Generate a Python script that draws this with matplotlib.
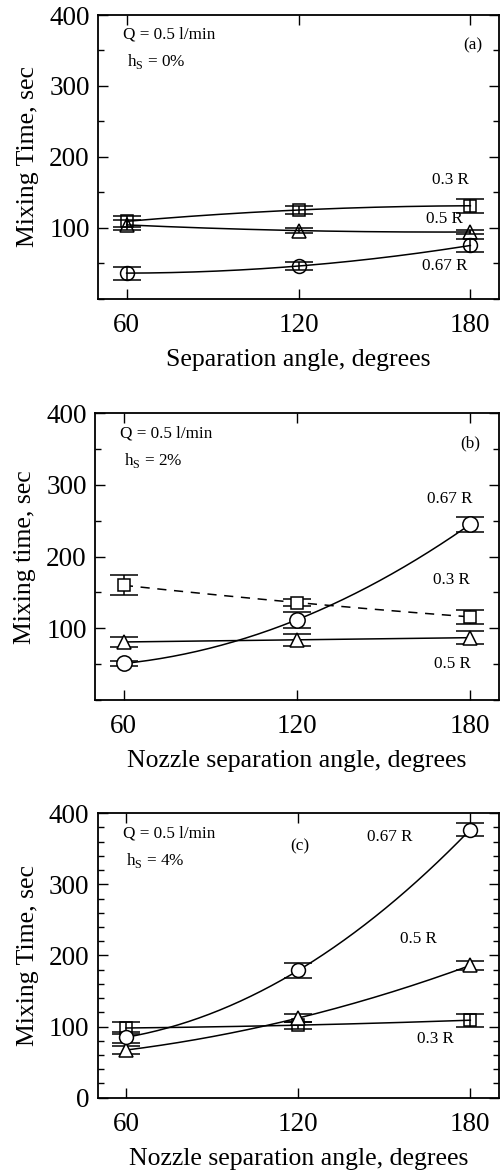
import numpy as np
import matplotlib
matplotlib.use("Agg")
import matplotlib.pyplot as plt
from matplotlib.ticker import MultipleLocator

plt.rcParams['font.family'] = ['Liberation Serif', 'DejaVu Serif']
plt.rcParams['mathtext.fontset'] = 'custom'
plt.rcParams['mathtext.rm'] = 'Liberation Serif'

angles = [60, 120, 180]

# panel (a), hs = 0%
a_sq = [109, 125, 131]
a_sq_err = [8, 5, 10]
a_tri = [104, 96, 94]
a_tri_err = [7, 3, 3]
a_circ = [36, 46, 75]
a_circ_err = [9, 6, 9]

# panel (b), hs = 2%
b_sq = [160, 136, 116]
b_sq_err = [14, 5, 10]
b_tri = [81, 84, 87]
b_tri_err = [7, 8, 9]
b_circ = [51, 112, 245]
b_circ_err = [3, 11, 10]

# panel (c), hs = 4%
c_sq = [98, 102, 109]
c_sq_err = [8, 5, 9]
c_tri = [67, 112, 186]
c_tri_err = [5, 5, 6]
c_circ = [85, 179, 377]
c_circ_err = [8, 10, 9]

ylabels = ["Mixing Time, sec", "Mixing time, sec", "Mixing Time, sec"]
xlabels = ["Separation angle, degrees", "Nozzle separation angle, degrees",
           "Nozzle separation angle, degrees"]
hs_text = ["0%", "2%", "4%"]
panel_tags = ["(a)", "(b)", "(c)"]

fig = plt.figure(figsize=(5.0, 11.73), dpi=100)
rects = [[0.196, 0.7454, 0.802, 0.2418],
         [0.190, 0.4032, 0.808, 0.2445],
         [0.195, 0.0642, 0.803, 0.2425]]


def draw_series(ax, y, err, marker, ms, face, ls='-'):
    xs = np.linspace(angles[0], angles[-1], 200)
    coef = np.polyfit(angles, y, 2)
    ax.plot(xs, np.polyval(coef, xs), color='black', lw=1.1, ls=ls,
            dashes=(6, 5) if ls == '--' else (None, None), zorder=2)
    ax.errorbar(angles, y, yerr=err, fmt='none', ecolor='black', elinewidth=1.1,
                capsize=10, capthick=1.1, zorder=3)
    ax.plot(angles, y, ls='none', marker=marker, ms=ms, mfc=face, mec='black',
            mew=1.1, zorder=4)


panels = [
    [(a_sq, a_sq_err, 's', 'none', '-'), (a_tri, a_tri_err, '^', 'none', '-'),
     (a_circ, a_circ_err, 'o', 'none', '-')],
    [(b_sq, b_sq_err, 's', 'white', '--'), (b_tri, b_tri_err, '^', 'white', '-'),
     (b_circ, b_circ_err, 'o', 'white', '-')],
    [(c_sq, c_sq_err, 's', 'none', '-'), (c_tri, c_tri_err, '^', 'white', '-'),
     (c_circ, c_circ_err, 'o', 'white', '-')],
]

# label positions in data coords: (x, y, text)
curve_labels = [
    [(173, 167, "0.3 R"), (171, 113, "0.5 R"), (171, 46, "0.67 R")],
    [(173, 281, "0.67 R"), (173.5, 167, "0.3 R"), (174, 50, "0.5 R")],
    [(152, 367, "0.67 R"), (162, 223, "0.5 R"), (168, 82, "0.3 R")],
]
tag_pos = [(181, 357), (180, 358), (120.5, 353)]

for i in range(3):
    ax = fig.add_axes(rects[i])
    for y, err, mk, face, ls in panels[i]:
        ms = 8 if mk == 's' else 10
        if i == 1 and mk == 'o':
            ms = 11
        draw_series(ax, y, err, mk, ms, face, ls)

    ax.set_xlim(50, 190)
    ax.set_ylim(0, 400)
    ax.set_xticks(angles)
    if i == 2:
        ax.set_yticks([0, 100, 200, 300, 400])
        ax.yaxis.set_minor_locator(MultipleLocator(20))
    else:
        ax.set_yticks([100, 200, 300, 400])
        ax.yaxis.set_minor_locator(MultipleLocator(50))
    ax.tick_params(axis='both', which='both', direction='in', top=True, right=True,
                   labelsize=19.5, width=1.0)
    ax.tick_params(axis='both', which='major', length=7)
    ax.tick_params(axis='both', which='minor', length=4)
    ax.tick_params(axis='x', pad=10)
    ax.tick_params(axis='y', pad=6)
    for s in ax.spines.values():
        s.set_linewidth(1.3)

    ax.set_ylabel(ylabels[i], fontsize=18.5, labelpad=7)
    ax.set_xlabel(xlabels[i], fontsize=18.5, labelpad=8)

    ax.text(58.8, 372, "Q = 0.5 l/min", fontsize=12.3, va='center', ha='left')
    ax.text(60, 334, r"h$_\mathregular{S}$ = " + hs_text[i], fontsize=12.3,
            va='center', ha='left')
    ax.text(tag_pos[i][0], tag_pos[i][1], panel_tags[i], fontsize=12.3,
            va='center', ha='center')
    for lx, ly, lt in curve_labels[i]:
        ax.text(lx, ly, lt, fontsize=12.3, va='center', ha='center')

fig.savefig("out.png", dpi=100)
